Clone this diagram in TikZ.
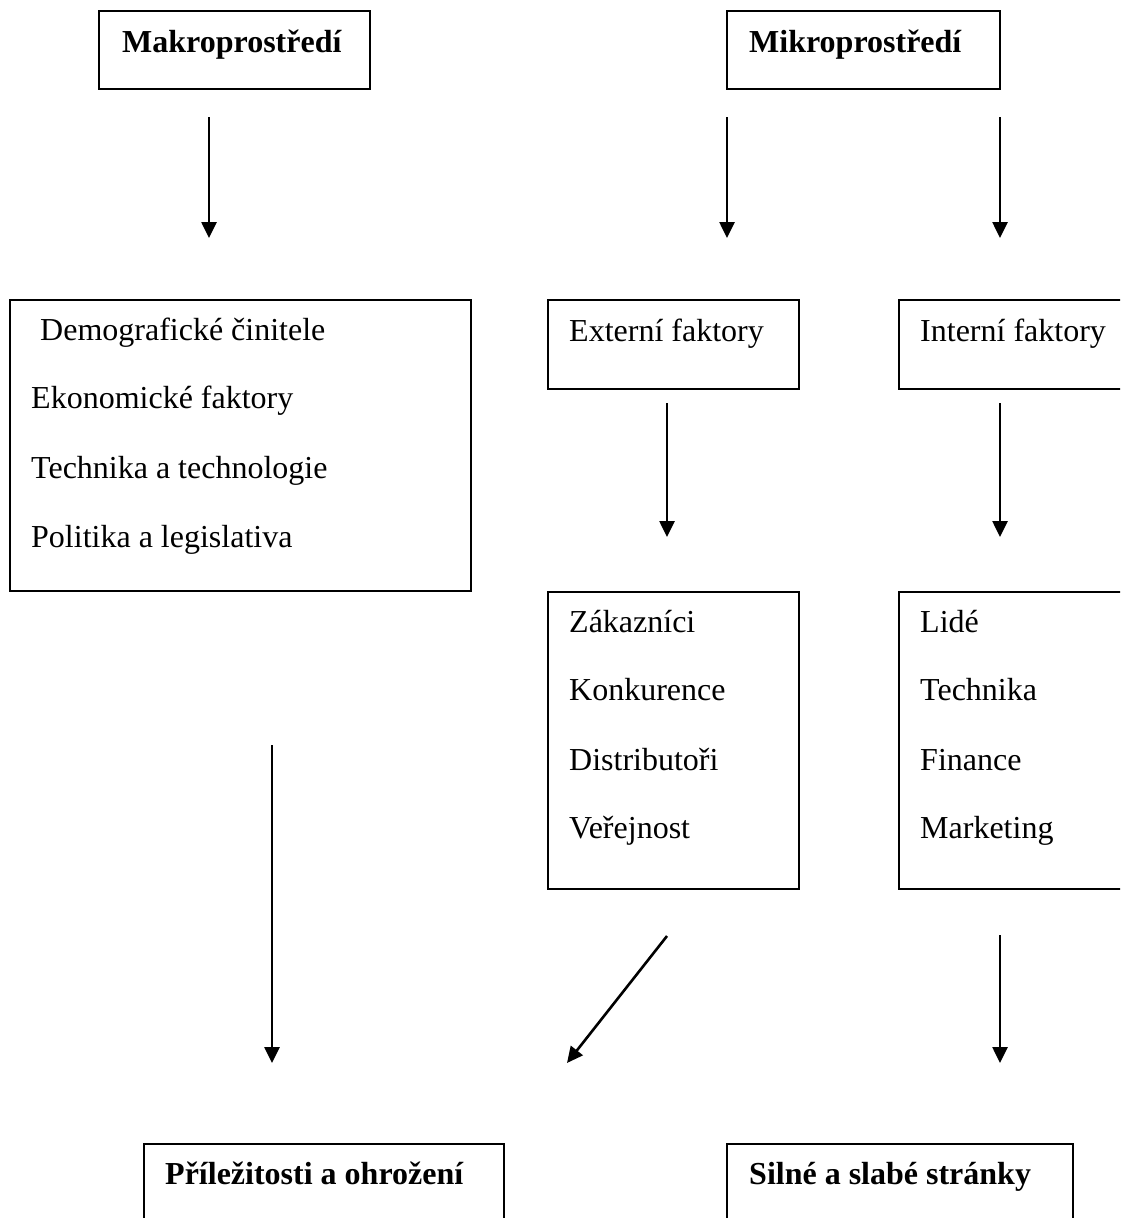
\documentclass[tikz,border=0pt]{standalone}
\usepackage{fontspec}
\setmainfont{Liberation Serif}
\usetikzlibrary{arrows.meta}
\begin{document}
\begin{tikzpicture}[x=1pt,y=-1pt,
  box/.style={draw=black,line width=1.6pt,inner sep=0pt,outer sep=0pt},
  lbl/.style={anchor=base west,inner sep=0pt,font=\fontsize{32}{38}\selectfont},
  blbl/.style={lbl,font=\fontsize{32}{38}\selectfont\bfseries},
  flow/.style={line width=2.6pt,-{Triangle[width=15pt,length=16pt]}}]
\useasboundingbox (0,0) rectangle (1120,1218);
\clip (0,0) rectangle (1120,1218);
\fill[white] (0,0) rectangle (1120,1218);
% boxes
\draw[box] (99,11) rectangle (370,89);
\draw[box] (727,11) rectangle (1000,89);
\draw[box] (10,300) rectangle (471,591);
\draw[box] (548,300) rectangle (799,389);
\draw[box] (899,300) rectangle (1140,389);
\draw[box] (548,592) rectangle (799,889);
\draw[box] (899,592) rectangle (1140,889);
\draw[box] (144,1144) rectangle (504,1250);
\draw[box] (727,1144) rectangle (1073,1250);
% texts
\node[blbl] (makro) at (122,52) {Makroprostředí};
\node[blbl] (mikro) at (749,52) {Mikroprostředí};
\node[lbl] (dem) at (40,340) {Demografické činitele};
\node[lbl] (eko) at (31,408) {Ekonomické faktory};
\node[lbl] (tech) at (31,478) {Technika a technologie};
\node[lbl] (pol) at (31,547) {Politika a legislativa};
\node[lbl] (ext) at (569,341) {Externí faktory};
\node[lbl] (int) at (920,341) {Interní faktory};
\node[lbl] (zak) at (569,632) {Zákazníci};
\node[lbl] (kon) at (569,700) {Konkurence};
\node[lbl] (dis) at (569,770) {Distributoři};
\node[lbl] (ver) at (569,838) {Veřejnost};
\node[lbl] (lid) at (920,632) {Lidé};
\node[lbl] (tec) at (920,700) {Technika};
\node[lbl] (fin) at (920,770) {Finance};
\node[lbl] (mar) at (920,838) {Marketing};
\node[blbl] (prile) at (165,1184) {Příležitosti a ohrožení};
\node[blbl] (silne) at (749,1184) {Silné a slabé stránky};
% arrow end points
\coordinate (a1s) at (209,117); \coordinate (a1e) at (209,238);
\coordinate (a2s) at (727,117); \coordinate (a2e) at (727,238);
\coordinate (a3s) at (1000,117); \coordinate (a3e) at (1000,238);
\coordinate (a4s) at (667,403); \coordinate (a4e) at (667,537);
\coordinate (a5s) at (1000,403); \coordinate (a5e) at (1000,537);
\coordinate (a6s) at (272,745); \coordinate (a6e) at (272,1063);
\coordinate (a7s) at (667,936); \coordinate (a7e) at (567,1063);
\coordinate (a8s) at (1000,935); \coordinate (a8e) at (1000,1063);
\draw[flow] (a1s) -- (a1e);
\draw[flow] (a2s) -- (a2e);
\draw[flow] (a3s) -- (a3e);
\draw[flow] (a4s) -- (a4e);
\draw[flow] (a5s) -- (a5e);
\draw[flow] (a6s) -- (a6e);
\draw[flow] (a7s) -- (a7e);
\draw[flow] (a8s) -- (a8e);
\end{tikzpicture}
\end{document}
